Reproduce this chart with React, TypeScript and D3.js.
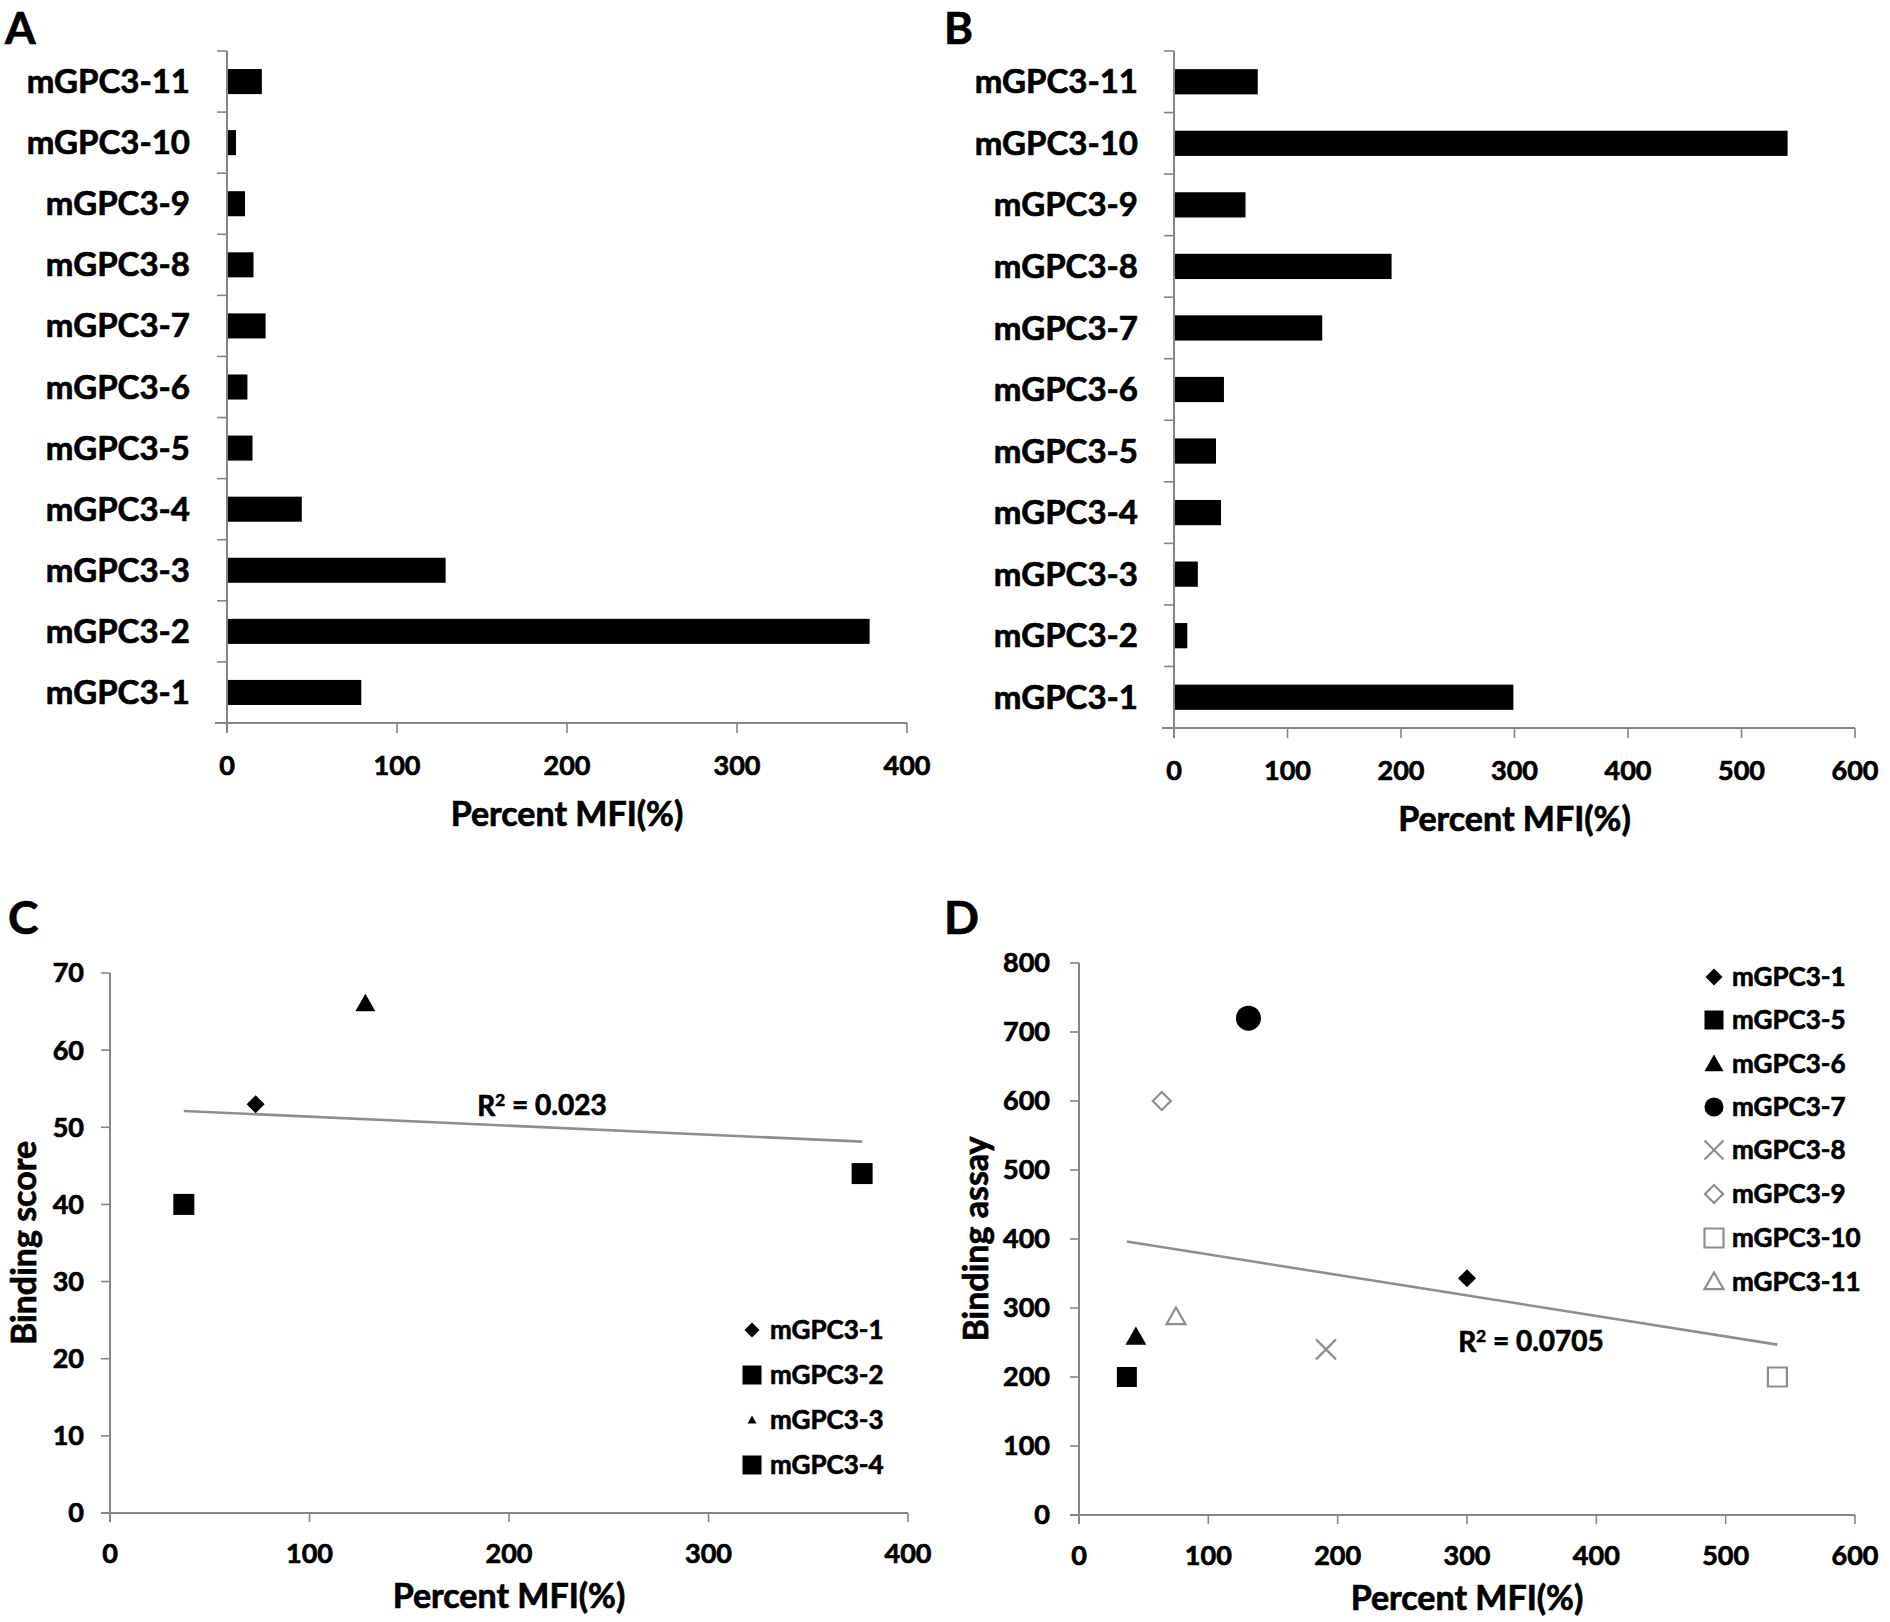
import * as d3 from "d3";

// ---- data ----
const categories = [
  "mGPC3-1", "mGPC3-2", "mGPC3-3", "mGPC3-4", "mGPC3-5", "mGPC3-6",
  "mGPC3-7", "mGPC3-8", "mGPC3-9", "mGPC3-10", "mGPC3-11",
];
const mfiA = [79, 378, 128.6, 44, 15, 12, 22.7, 15.6, 10.6, 5.3, 20.5];
const mfiB = [299, 11.7, 21, 41.4, 37, 44, 130.6, 191.7, 63, 540.6, 73.8];
const ticksA = [0, 100, 200, 300, 400];
const ticksB = [0, 100, 200, 300, 400, 500, 600];

const namesC = ["mGPC3-1", "mGPC3-2", "mGPC3-3", "mGPC3-4"];
const mfiC = [73, 377, 128, 37];
const scoreC = [53, 44, 66, 40];
const xTicksC = [0, 100, 200, 300, 400];
const yTicksC = [0, 10, 20, 30, 40, 50, 60, 70];

const namesD = ["mGPC3-1", "mGPC3-5", "mGPC3-6", "mGPC3-7", "mGPC3-8", "mGPC3-9", "mGPC3-10", "mGPC3-11"];
const mfiD = [300, 37, 44, 131, 191, 64, 540, 75];
const assayD = [343, 200, 258, 720, 240, 600, 200, 287];
const xTicksD = [0, 100, 200, 300, 400, 500, 600];
const yTicksD = [0, 100, 200, 300, 400, 500, 600, 700, 800];

const FONT = "Lato, 'DejaVu Sans', sans-serif";
const AXIS = "#858585";
const GRAY = "#8e8e8e";
const TXT = { stroke: "#000", strokeWidth: 0.7 };

// marker shapes, size = width^2
const shapes: Record<string, any> = {
  diamond: { draw(c: any, s: number) { const r = Math.sqrt(s) / 2; c.moveTo(0, -r); c.lineTo(r, 0); c.lineTo(0, r); c.lineTo(-r, 0); c.closePath(); } },
  square: { draw(c: any, s: number) { const r = Math.sqrt(s) / 2; c.rect(-r, -r, 2 * r, 2 * r); } },
  triangle: { draw(c: any, s: number) { const r = Math.sqrt(s) / 2; c.moveTo(0, -r); c.lineTo(r, r * 0.75); c.lineTo(-r, r * 0.75); c.closePath(); } },
  circle: { draw(c: any, s: number) { const r = Math.sqrt(s) / 2; c.moveTo(r, 0); c.arc(0, 0, r, 0, 2 * Math.PI); } },
  x: { draw(c: any, s: number) { const r = Math.sqrt(s) / 2; c.moveTo(-r, -r); c.lineTo(r, r); c.moveTo(r, -r); c.lineTo(-r, r); } },
};

type Mk = { shape: string; size: number; fill: string; stroke: string };
const markersC: Mk[] = [
  { shape: "diamond", size: 18, fill: "#000", stroke: "none" },
  { shape: "square", size: 21, fill: "#000", stroke: "none" },
  { shape: "triangle", size: 20, fill: "#000", stroke: "none" },
  { shape: "square", size: 21, fill: "#000", stroke: "none" },
];
const legendSizeC = [15, 19, 9, 19];
const markersD: Mk[] = [
  { shape: "diamond", size: 18, fill: "#000", stroke: "none" },
  { shape: "square", size: 20, fill: "#000", stroke: "none" },
  { shape: "triangle", size: 21, fill: "#000", stroke: "none" },
  { shape: "circle", size: 25, fill: "#000", stroke: "none" },
  { shape: "x", size: 20, fill: "none", stroke: GRAY },
  { shape: "diamond", size: 18, fill: "#fff", stroke: GRAY },
  { shape: "square", size: 19, fill: "#fff", stroke: GRAY },
  { shape: "triangle", size: 19, fill: "#fff", stroke: GRAY },
];
const legendSizeD = [17, 19, 19, 19, 19, 18, 19, 19];

function symPath(shape: string, w: number) {
  return d3.symbol().type(shapes[shape]).size(w * w)() as string;
}

function Marker({ m, x, y, w }: { m: Mk; x: number; y: number; w: number }) {
  return (
    <path d={symPath(m.shape, w)} transform={`translate(${x},${y})`} fill={m.fill}
      stroke={m.stroke} strokeWidth={m.stroke === "none" ? 0 : 2.2} />
  );
}

type BarProps = {
  letter: string; letterX: number; values: number[]; ticks: number[];
  x0: number; x1: number; yTop: number; yBottom: number; labelRight: number;
};

function BarPanel({ letter, letterX, values, ticks, x0, x1, yTop, yBottom, labelRight }: BarProps) {
  const x = d3.scaleLinear().domain([0, ticks[ticks.length - 1]]).range([x0, x1]);
  const y = d3.scaleBand<string>().domain([...categories].reverse()).range([yTop, yBottom])
    .paddingInner(0.59).paddingOuter(0.295);
  const step = y.step();
  const bounds = d3.range(categories.length + 1).map((i) => yTop + i * step);
  return (
    <g fontFamily={FONT} fontWeight="bold">
      <text x={letterX} y={44} fontSize={44} {...TXT}>{letter}</text>
      {categories.map((c, i) => (
        <rect key={c} x={x(0)} y={y(c)} width={x(values[i]) - x(0)} height={y.bandwidth()} fill="#000" />
      ))}
      <line x1={x0} x2={x0} y1={yTop} y2={yBottom + 10} stroke={AXIS} strokeWidth={2} />
      <line x1={x0 - 12} x2={x1} y1={yBottom} y2={yBottom} stroke={AXIS} strokeWidth={2} />
      {bounds.map((b, i) => (
        <line key={i} x1={x0 - 10} x2={x0} y1={b} y2={b} stroke={AXIS} strokeWidth={1.6} />
      ))}
      {ticks.map((t) => (
        <g key={t}>
          <line x1={x(t)} x2={x(t)} y1={yBottom} y2={yBottom + 10} stroke={AXIS} strokeWidth={1.6} />
          <text x={x(t)} y={yBottom + 43} fontSize={27} textAnchor="middle" dy="0.35em" {...TXT}>{t}</text>
        </g>
      ))}
      {categories.map((c) => (
        <text key={c} x={labelRight} y={(y(c) as number) + y.bandwidth() / 2} dy="0.35em" fontSize={33} textAnchor="end" {...TXT}>{c}</text>
      ))}
      <text x={(x0 + x1) / 2} y={yBottom + 91} dy="0.35em" fontSize={34} textAnchor="middle" {...TXT}>Percent MFI(%)</text>
    </g>
  );
}

type ScatterProps = {
  letter: string; letterX: number; xs: number[]; ys: number[]; names: string[];
  markers: Mk[]; legendSizes: number[]; xTicks: number[]; yTicks: number[];
  x0: number; x1: number; yTop: number; yBottom: number; yTitle: string; yTitleX: number;
  r2: string; r2X: number; r2Y: number; legX: number; legY: number[]; labelGap: number;
};

function ScatterPanel(p: ScatterProps) {
  const x = d3.scaleLinear().domain([0, p.xTicks[p.xTicks.length - 1]]).range([p.x0, p.x1]);
  const y = d3.scaleLinear().domain([0, p.yTicks[p.yTicks.length - 1]]).range([p.yBottom, p.yTop]);
  // least squares trendline
  const mx = d3.mean(p.xs) as number;
  const my = d3.mean(p.ys) as number;
  const sxy = d3.sum(p.xs, (v, i) => (v - mx) * (p.ys[i] - my));
  const sxx = d3.sum(p.xs, (v) => (v - mx) * (v - mx));
  const slope = sxy / sxx;
  const fit = (v: number) => my + slope * (v - mx);
  const [lo, hi] = d3.extent(p.xs) as [number, number];
  const line = d3.line<number>().x((v) => x(v)).y((v) => y(fit(v)));
  const midY = (p.yTop + p.yBottom) / 2;
  return (
    <g fontFamily={FONT} fontWeight="bold">
      <text x={p.letterX} y={934} fontSize={46} {...TXT}>{p.letter}</text>
      <line x1={p.x0} x2={p.x0} y1={p.yTop} y2={p.yBottom + 9} stroke={AXIS} strokeWidth={2} />
      <line x1={p.x0 - 9} x2={p.x1} y1={p.yBottom} y2={p.yBottom} stroke={AXIS} strokeWidth={2} />
      {p.yTicks.map((t) => (
        <g key={t}>
          <line x1={p.x0 - 9} x2={p.x0} y1={y(t)} y2={y(t)} stroke={AXIS} strokeWidth={1.6} />
          <text x={p.x0 - p.labelGap} y={y(t)} dy="0.35em" fontSize={27} textAnchor="end" {...TXT}>{t}</text>
        </g>
      ))}
      {p.xTicks.map((t) => (
        <g key={t}>
          <line x1={x(t)} x2={x(t)} y1={p.yBottom} y2={p.yBottom + 9} stroke={AXIS} strokeWidth={1.6} />
          <text x={x(t)} y={p.yBottom + 41} dy="0.35em" fontSize={27} textAnchor="middle" {...TXT}>{t}</text>
        </g>
      ))}
      <text x={(p.x0 + p.x1) / 2} y={p.yBottom + 83} dy="0.35em" fontSize={34} textAnchor="middle" {...TXT}>Percent MFI(%)</text>
      <text transform={`translate(${p.yTitleX},${midY}) rotate(-90)`} dy="0.35em" fontSize={34} textAnchor="middle" {...TXT}>{p.yTitle}</text>
      <path d={line([lo, hi]) as string} fill="none" stroke={GRAY} strokeWidth={2.6} />
      {p.xs.map((v, i) => (
        <Marker key={i} m={p.markers[i]} x={x(v)} y={y(p.ys[i])} w={p.markers[i].size} />
      ))}
      <text x={p.r2X} y={p.r2Y} dy="0.35em" fontSize={28} textAnchor="middle" {...TXT}>
        R<tspan fontSize={17} dy="-0.55em">2</tspan><tspan dy="0.3em"> = {p.r2}</tspan>
      </text>
      {p.names.map((n, i) => (
        <g key={n}>
          <Marker m={p.markers[i]} x={p.legX} y={p.legY[i]} w={p.legendSizes[i]} />
          <text x={p.legX + 18} y={p.legY[i]} dy="0.35em" fontSize={26} {...TXT}>{n}</text>
        </g>
      ))}
    </g>
  );
}

export default function App() {
  return (
    <svg width={1890} height={1622} viewBox="0 0 1890 1622"
      style={{ position: "absolute", left: 0, top: 0, background: "#fff" }}>
      <rect width={1890} height={1622} fill="#fff" />
      <BarPanel letter="A" letterX={5} values={mfiA} ticks={ticksA}
        x0={227} x1={907} yTop={51} yBottom={723} labelRight={190} />
      <BarPanel letter="B" letterX={944} values={mfiB} ticks={ticksB}
        x0={1174} x1={1855} yTop={51} yBottom={728} labelRight={1138} />
      <ScatterPanel letter="C" letterX={8} xs={mfiC} ys={scoreC} names={namesC}
        markers={markersC} legendSizes={legendSizeC} xTicks={xTicksC} yTicks={yTicksC}
        x0={110} x1={908} yTop={973} yBottom={1513} yTitle="Binding score" yTitleX={24}
        r2="0.023" r2X={542} r2Y={1106} legX={752} legY={[1330, 1375, 1420, 1465]} labelGap={26} />
      <ScatterPanel letter="D" letterX={944} xs={mfiD} ys={assayD} names={namesD}
        markers={markersD} legendSizes={legendSizeD} xTicks={xTicksD} yTicks={yTicksD}
        x0={1079} x1={1855} yTop={963} yBottom={1515} yTitle="Binding assay" yTitleX={976}
        r2="0.0705" r2X={1531} r2Y={1342} legX={1714}
        legY={[977, 1020, 1064, 1107, 1150, 1194, 1238, 1282]} labelGap={29} />
    </svg>
  );
}
